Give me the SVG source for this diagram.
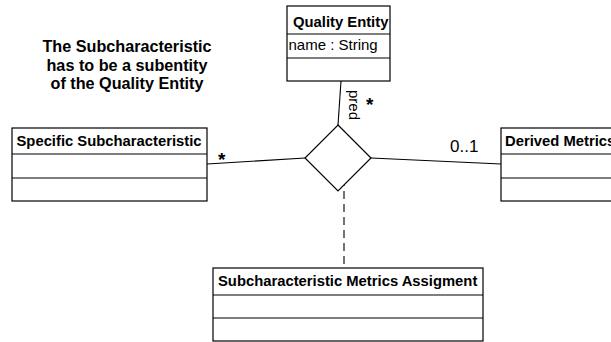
<svg xmlns="http://www.w3.org/2000/svg" width="611" height="342" viewBox="0 0 611 342">
<style>
.box{fill:#fff;stroke:#000;stroke-width:1.2}
.ln{stroke:#000;stroke-width:1.1;fill:none}
.t{font-family:"Liberation Sans",Arial,sans-serif;font-size:14.8px;font-weight:bold;fill:#000}
.r{font-family:"Liberation Sans",Arial,sans-serif;font-size:15px;fill:#000}
.s{font-family:"Liberation Sans",Arial,sans-serif;font-size:19px;font-weight:bold;fill:#000}
.note{font-family:"Liberation Sans",Arial,sans-serif;font-size:16.2px;font-weight:bold;fill:#000;text-anchor:middle}
</style>
<rect width="611" height="342" fill="#fff"/>
<g id="note">
<text class="note" x="127" y="52">The Subcharacteristic</text>
<text class="note" x="127" y="70.5">has to be a subentity</text>
<text class="note" x="127" y="89">of the Quality Entity</text>
</g>
<g id="connectors">
<line class="ln" x1="341" y1="81" x2="338" y2="125"/>
<line class="ln" x1="207" y1="164" x2="305" y2="158"/>
<line class="ln" x1="371" y1="158" x2="501" y2="164"/>
<line class="ln" x1="344" y1="170" x2="344" y2="268" stroke-dasharray="2,6,8,5,8,5,8,5,8,5,8,5,8,5,8,5,8,5"/>
<polygon class="box" points="338,125 371,158 338,191 305,158"/>
<text class="r" transform="translate(349,90) rotate(90)">pred</text>
<text class="s" x="366" y="111">*</text>
<text class="s" x="218" y="166">*</text>
<text class="r" x="450" y="152" style="font-size:17px">0..1</text>
</g>
<g id="quality-entity">
<rect class="box" x="287" y="6" width="103" height="75"/>
<line class="ln" x1="287" y1="34" x2="390" y2="34"/>
<line class="ln" x1="287" y1="58" x2="390" y2="58"/>
<text class="t" x="293" y="26.5">Quality Entity</text>
<text class="r" x="288.5" y="50">name : String</text>
</g>
<g id="specific-subcharacteristic">
<rect class="box" x="12" y="128" width="195" height="73"/>
<line class="ln" x1="12" y1="154" x2="207" y2="154"/>
<line class="ln" x1="12" y1="178" x2="207" y2="178"/>
<text class="t" x="16.5" y="146">Specific Subcharacteristic</text>
</g>
<g id="derived-metrics">
<rect class="box" x="501" y="128" width="115" height="73"/>
<line class="ln" x1="501" y1="154" x2="616" y2="154"/>
<line class="ln" x1="501" y1="178" x2="616" y2="178"/>
<text class="t" x="505" y="146">Derived Metrics</text>
</g>
<g id="subcharacteristic-metrics-assigment">
<rect class="box" x="213" y="268" width="270" height="73"/>
<line class="ln" x1="213" y1="295" x2="483" y2="295"/>
<line class="ln" x1="213" y1="318" x2="483" y2="318"/>
<text class="t" x="218" y="286">Subcharacteristic Metrics Assigment</text>
</g>
</svg>
